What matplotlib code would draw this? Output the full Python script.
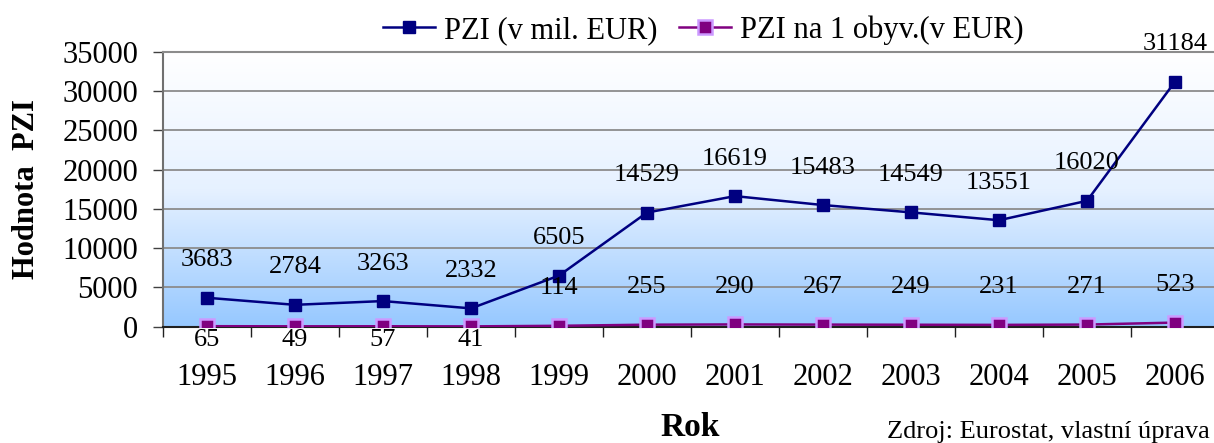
import numpy as np
import matplotlib.pyplot as plt
from matplotlib.colors import LinearSegmentedColormap

# Data
years = ['1995', '1996', '1997', '1998', '1999', '2000',
         '2001', '2002', '2003', '2004', '2005', '2006']
pzi_mil_eur = [3683, 2784, 3263, 2332, 6505, 14529,
               16619, 15483, 14549, 13551, 16020, 31184]
pzi_per_capita = [65, 49, 57, 41, 114, 255,
                  290, 267, 249, 231, 271, 523]

label_blue = 'PZI (v mil. EUR)'
label_purple = 'PZI na 1 obyv.(v EUR)'

plt.rcParams['font.family'] = ['Liberation Serif', 'DejaVu Serif']

fig = plt.figure(figsize=(12.14, 4.43), dpi=100)
ax = fig.add_axes([163 / 1214, 1 - 326.7 / 443, 1056 / 1214, 275 / 443])

x = np.arange(len(years))

# background gradient white -> light blue
cmap = LinearSegmentedColormap.from_list('bg', ['#ffffff', '#e6f1ff', '#96c8ff'])
grad = np.linspace(0, 1, 256).reshape(-1, 1)
ax.imshow(grad, cmap=cmap, aspect='auto', extent=[-0.5, 11.5, 0, 35000],
          origin='upper', zorder=0)

ax.plot(x, pzi_mil_eur, color='#000080', lw=1.8, marker='s', ms=9,
        mfc='#000080', mec='#000080', label=label_blue, zorder=3)
ax.plot(x, pzi_per_capita, color='#800080', lw=1.8, marker='s', ms=9.5,
        mfc='#800080', mec='#cc99ff', mew=1.8, label=label_purple, zorder=4)

for xi, v in zip(x, pzi_mil_eur):
    ax.annotate(str(v), (xi, v), xytext=(0, 27), textcoords='offset points',
                ha='center', va='center', fontsize=19, zorder=5)
for xi, v in zip(x, pzi_per_capita):
    dy = -10 if xi < 4 else 27
    ax.annotate(str(v), (xi, v), xytext=(0, dy), textcoords='offset points',
                ha='center', va='center', fontsize=19, zorder=5)

ax.set_xlim(-0.5, 11.5)
ax.set_ylim(0, 35000)
ax.set_yticks(range(0, 35001, 5000))
ax.set_xticks(x)
ax.set_xticklabels(years)
ax.set_xticks(np.arange(-0.5, 12, 1), minor=True)
ax.tick_params(axis='x', which='major', length=0, pad=26, labelsize=22)
ax.tick_params(axis='x', which='minor', length=7, width=1, color='#202020')
ax.tick_params(axis='y', length=7, width=1, pad=11, labelsize=22, color='#404040')

ax.yaxis.grid(True, color='#8c8c8c', lw=1.3)
ax.set_axisbelow(True)
ax.spines['right'].set_visible(False)
ax.spines['top'].set_color('#8c8c8c')
ax.spines['top'].set_linewidth(1.5)
ax.spines['left'].set_color('#707070')
ax.spines['left'].set_linewidth(1.5)
ax.spines['bottom'].set_color('#202020')
ax.spines['bottom'].set_linewidth(1.5)

fig.legend(loc='center', bbox_to_anchor=(703 / 1214, 1 - 30 / 443), ncol=2,
           frameon=False, fontsize=22, handlelength=1.7, handletextpad=0.3,
           columnspacing=0.7)

fig.text(27 / 1214, 1 - 189 / 443, 'Hodnota  PZI', rotation=90, ha='center',
         va='center', fontsize=22, fontweight='bold')
fig.text(690 / 1214, 1 - 428 / 443, 'Rok', ha='center', va='center',
         fontsize=24, fontweight='bold')
fig.text(1210 / 1214, 1 - 432 / 443, 'Zdroj: Eurostat, vlastní úprava',
         ha='right', va='center', fontsize=19)

fig.savefig('out.png', dpi=100)
